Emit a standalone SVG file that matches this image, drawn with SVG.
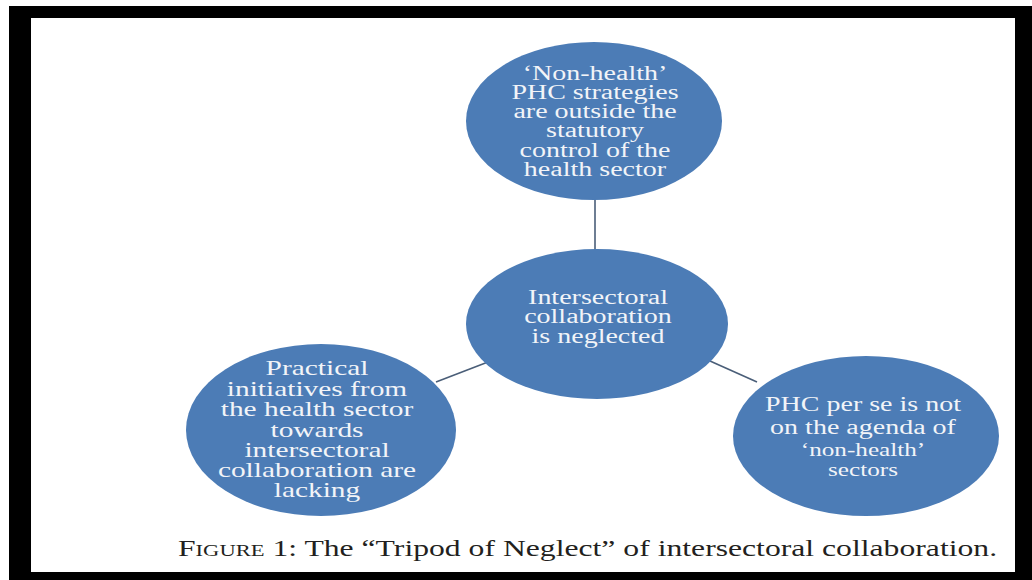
<svg xmlns="http://www.w3.org/2000/svg" width="1032" height="580" viewBox="0 0 1032 580">
<style>
.node{fill:#4c7cb6;}
.t{font-family:"Liberation Serif","Times New Roman",serif;font-size:20px;fill:#f2f4f8;text-anchor:middle;}
.l{font-size:21px;}
.s{font-size:18px;}
.edge{stroke:#4a5e78;stroke-width:1.6;fill:none;}
.cap{font-family:"Liberation Serif","Times New Roman",serif;font-size:24px;fill:#231f20;}
</style>
<rect x="9" y="6" width="1023" height="574" fill="#000"/>
<rect x="31" y="18" width="984" height="554" fill="#fff"/>
<g id="connectors">
<line class="edge" x1="595" y1="199" x2="595" y2="252"/>
<line class="edge" x1="436" y1="382" x2="488" y2="362"/>
<line class="edge" x1="710" y1="361" x2="757" y2="382"/>
</g>
<g id="top">
<ellipse class="node" cx="594" cy="121" rx="128" ry="79"/>
<g transform="translate(595 0) scale(1.4 1)">
<text class="t" x="0" y="80">‘Non-health’</text>
<text class="t" x="0" y="99">PHC strategies</text>
<text class="t" x="0" y="118">are outside the</text>
<text class="t" x="0" y="137">statutory</text>
<text class="t" x="0" y="157">control of the</text>
<text class="t" x="0" y="176">health sector</text>
</g>
</g>
<g id="center">
<ellipse class="node" cx="597" cy="324" rx="131" ry="75"/>
<g transform="translate(598 0) scale(1.4 1)">
<text class="t" x="0" y="304">Intersectoral</text>
<text class="t" x="0" y="323">collaboration</text>
<text class="t" x="0" y="343">is neglected</text>
</g>
</g>
<g id="left">
<ellipse class="node" cx="321" cy="430" rx="135" ry="86"/>
<g transform="translate(317 0) scale(1.4 1)">
<text class="t l" x="0" y="375">Practical</text>
<text class="t l" x="0" y="396">initiatives from</text>
<text class="t l" x="0" y="416">the health sector</text>
<text class="t l" x="0" y="437">towards</text>
<text class="t l" x="0" y="457">intersectoral</text>
<text class="t l" x="0" y="477">collaboration are</text>
<text class="t l" x="0" y="497">lacking</text>
</g>
</g>
<g id="right">
<ellipse class="node" cx="866" cy="436" rx="133" ry="80"/>
<g transform="translate(863 0) scale(1.4 1)">
<text class="t" x="0" y="411">PHC per se is not</text>
<text class="t" x="0" y="434">on the agenda of</text>
<text class="t s" x="0" y="456">‘non-health’</text>
<text class="t s" x="0" y="476">sectors</text>
</g>
</g>
<g transform="translate(178 556) scale(1.32 1)">
<text class="cap" x="0" y="0"><tspan style="font-variant:small-caps">Figure</tspan> 1: The “Tripod of Neglect” of intersectoral collaboration.</text>
</g>
</svg>
